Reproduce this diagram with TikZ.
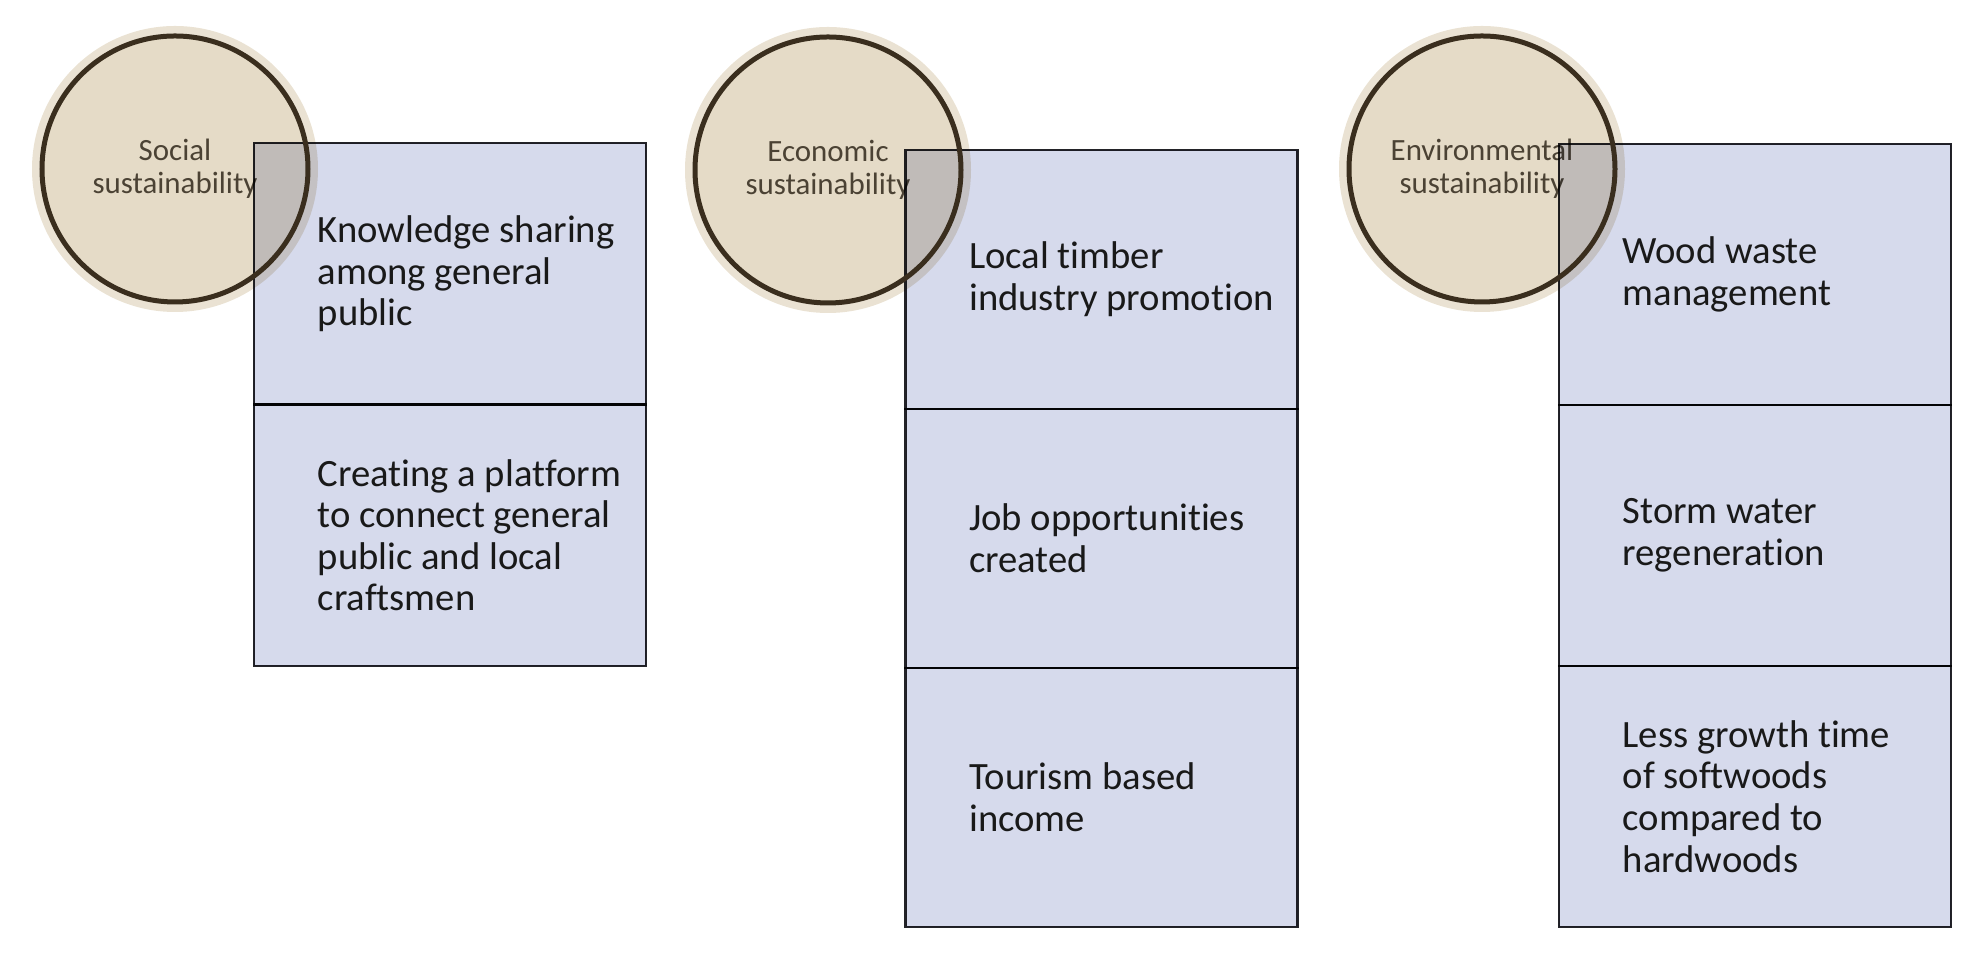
\documentclass[tikz,border=0pt]{standalone}
\usepackage{fontspec}
\setmainfont{Carlito}[Ligatures=NoCommon]
\definecolor{hubfill}{RGB}{229,219,199}
\definecolor{hubhalo}{RGB}{234,226,211}
\definecolor{hubring}{RGB}{58,46,30}
\definecolor{hubtext}{RGB}{75,66,52}
\definecolor{cellfill}{RGB}{214,218,236}
\definecolor{cellline}{RGB}{35,35,40}

\begin{document}
\begin{tikzpicture}[
    hub/.style={circle, minimum size=2.66cm, inner sep=0pt, fill=hubfill,
        preaction={draw=hubhalo, line width=0.2cm}, text=hubtext, align=center,
        font=\fontsize{8.8}{9.4}\selectfont},
    hubline/.style={draw=hubring, line width=0.05cm},
    cellbox/.style={draw=cellline, line width=0.8pt, fill=cellfill, rectangle,
        minimum width=3.92cm, anchor=north, inner sep=0pt, outer sep=0pt},
    celltext/.style={anchor=west, align=left, inner sep=0pt, xshift=0.63cm,
        text=black!90, font=\fontsize{11}{11.85}\selectfont}
  ]
    \useasboundingbox (0,0) rectangle (19.79,-9.54);

    % 圆圈
    \node[hub] (soc) at (1.75,-1.69) {Social\\sustainability};
    \node[hub] (eco) at (8.28,-1.70) {Economic\\sustainability};
    \node[hub] (env) at (14.82,-1.69) {Environmental\\sustainability};

    % 方框
    \begin{scope}[blend mode=multiply]
      \node[cellbox, minimum height=2.615cm] (soc1) at (4.50,-1.43) {};
      \node[cellbox, minimum height=2.615cm] (soc2) at (soc1.south) {};

      \node[cellbox, minimum height=2.59cm] (eco1) at (11.015,-1.50) {};
      \node[cellbox, minimum height=2.59cm] (eco2) at (eco1.south) {};
      \node[cellbox, minimum height=2.59cm] (eco3) at (eco2.south) {};

      \node[cellbox, minimum height=2.61cm] (env1) at (17.55,-1.44) {};
      \node[cellbox, minimum height=2.61cm] (env2) at (env1.south) {};
      \node[cellbox, minimum height=2.61cm] (env3) at (env2.south) {};
    \end{scope}

    \draw[hubline] (soc.center) circle (1.33cm);
    \draw[hubline] (eco.center) circle (1.33cm);
    \draw[hubline] (env.center) circle (1.33cm);

    % 文字
    \node[celltext] (soc1t) at (soc1.west) {Knowledge sharing\\among general\\public};
    \node[celltext] (soc2t) at (soc2.west) {Creating a platform\\to connect general\\public and local\\craftsmen};

    \node[celltext] (eco1t) at (eco1.west) {Local timber\\industry promotion};
    \node[celltext] (eco2t) at (eco2.west) {Job opportunities\\created};
    \node[celltext] (eco3t) at (eco3.west) {Tourism based\\income};

    \node[celltext] (env1t) at (env1.west) {Wood waste\\management};
    \node[celltext] (env2t) at (env2.west) {Storm water\\regeneration};
    \node[celltext] (env3t) at (env3.west) {Less growth time\\of softwoods\\compared to\\hardwoods};
  \end{tikzpicture}
\end{document}
